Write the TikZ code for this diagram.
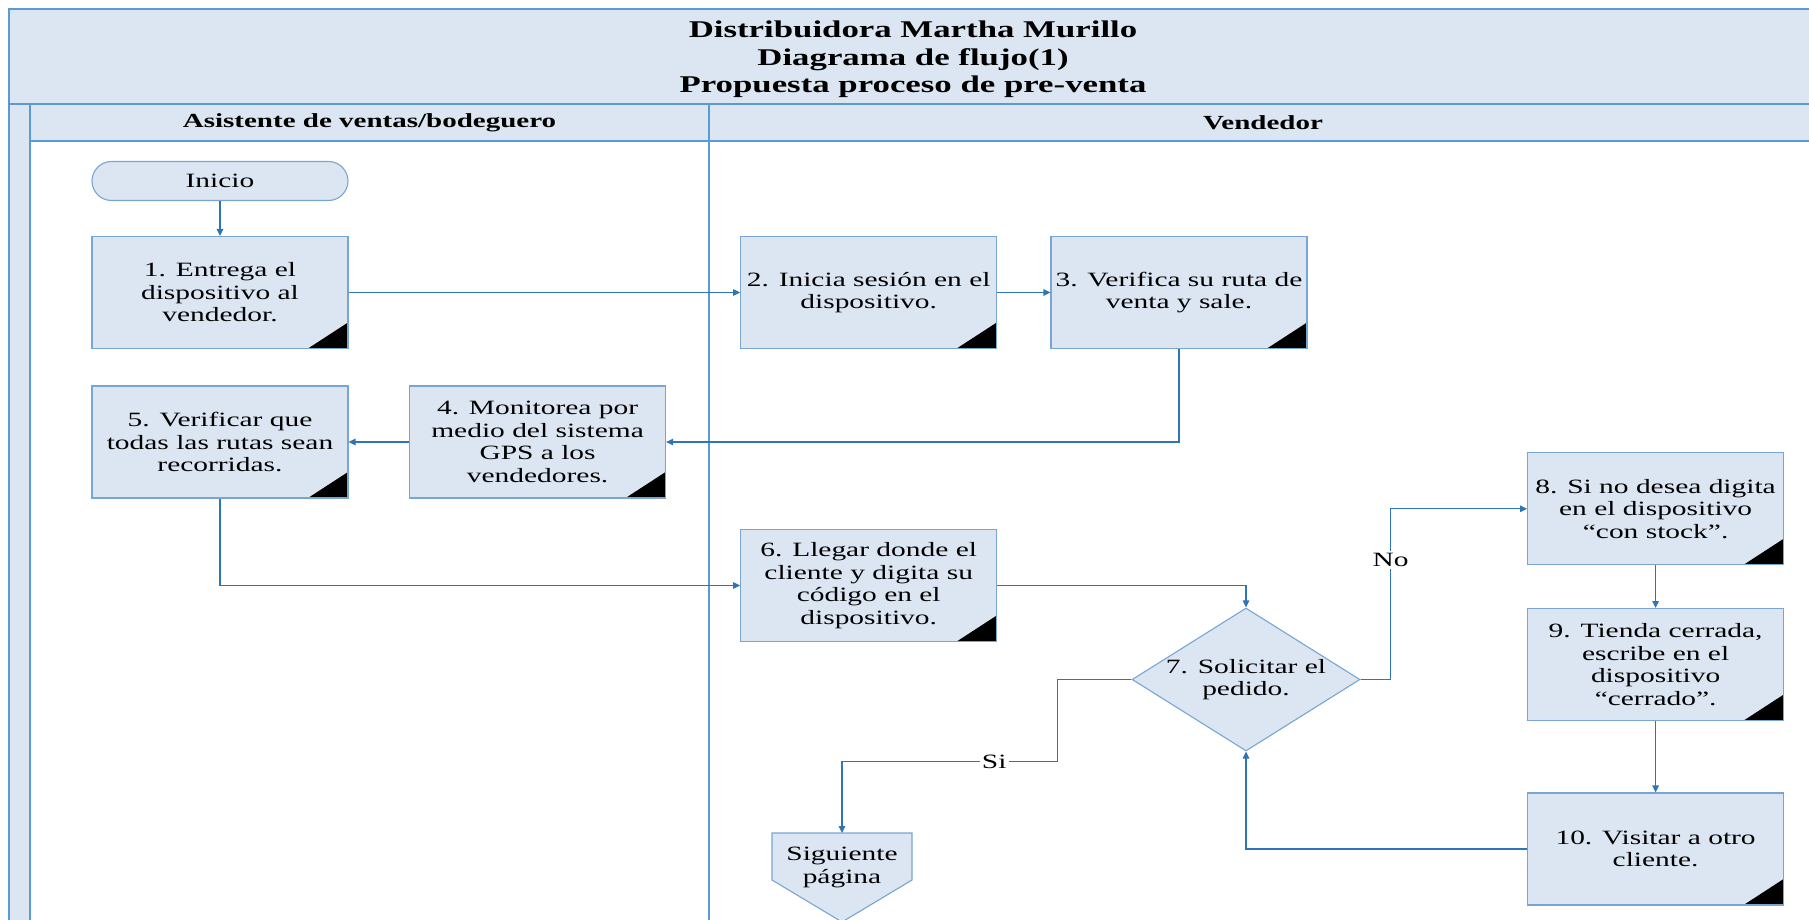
\documentclass[tikz,border=0pt]{standalone}
\usepackage{fontspec}
\setmainfont{Liberation Serif}[FakeStretch=1.45]
\usetikzlibrary{arrows.meta,shapes.geometric,calc}
\definecolor{laneblue}{RGB}{220,230,242}
\definecolor{framecol}{RGB}{91,155,213}
\definecolor{boxedge}{RGB}{120,165,210}
\definecolor{flowcol}{RGB}{46,117,182}

\begin{document}
\begin{tikzpicture}[x=1pt,y=-1pt,
  txt/.style={font=\fontsize{20.3}{22.5}\selectfont, align=center, text=black},
  frameline/.style={draw=framecol, line width=1.6pt},
  stepbox/.style={txt, draw=boxedge, line width=1.1pt, fill=laneblue,
    minimum width=256pt, minimum height=112pt, inner sep=0pt,
    path picture={\fill[black] (path picture bounding box.south east)
      -- ++(-40pt,0pt) -- ++(40pt,26pt) -- cycle;}},
  startbox/.style={txt, draw=boxedge, line width=1.1pt, fill=laneblue,
    rounded corners=19.5pt, minimum width=256pt, minimum height=39pt, inner sep=0pt},
  decision/.style={txt, diamond, aspect=1.6, draw=boxedge, line width=1.1pt, fill=laneblue,
    minimum width=228pt, minimum height=143pt, inner sep=0pt},
  flow/.style={draw=flowcol, line width=1.1pt, -{Triangle[length=7pt,width=6.5pt]}},
  lbl/.style={txt, fill=white, inner sep=2pt},
  hdr/.style={font=\fontsize{20}{24}\selectfont\bfseries, text=black}
]
\useasboundingbox (0,0) rectangle (1809,920);

% pool: title band, lane header row and left strip
\fill[laneblue] (9,9) rectangle (1817,141);
\fill[laneblue] (9,141) rectangle (30,925);
\draw[frameline] (9,925) -- (9,9) -- (1817,9);
\draw[frameline] (9,104) -- (1817,104);
\draw[frameline] (30,141) -- (1817,141);
\draw[frameline] (30,104) -- (30,925);
\draw[frameline] (709,104) -- (709,925);

\node[font=\fontsize{24}{27.7}\selectfont\bfseries, align=center] (title) at (913,59.5)
  {Distribuidora Martha Murillo\\Diagrama de flujo(1)\\Propuesta proceso de pre-venta};
\node[hdr] (laneA) at (369.5,123) {Asistente de ventas/bodeguero};
\node[hdr] (laneB) at (1263,123) {Vendedor};

% steps
\node[startbox] (ini) at (220,181) {Inicio};
\node[stepbox] (s1) at (220,292.5) {1. Entrega el\\dispositivo al\\vendedor.};
\node[stepbox] (s2) at (868.7,292.5) {2. Inicia sesión en el\\dispositivo.};
\node[stepbox] (s3) at (1179,292.5) {3. Verifica su ruta de\\venta y sale.};
\node[stepbox] (s4) at (537.6,442) {4. Monitorea por\\medio del sistema\\GPS a los\\vendedores.};
\node[stepbox] (s5) at (220,442) {5. Verificar que\\todas las rutas sean\\recorridas.};
\node[stepbox] (s6) at (868.7,585.5) {6. Llegar donde el\\cliente y digita su\\código en el\\dispositivo.};
\node[decision] (s7) at (1246,679.5) {7. Solicitar el\\pedido.};
\node[stepbox] (s8) at (1655.6,508.8) {8. Si no desea digita\\en el dispositivo\\“con stock”.};
\node[stepbox] (s9) at (1655.6,664.6) {9. Tienda cerrada,\\escribe en el\\dispositivo\\“cerrado”.};
\node[stepbox] (s10) at (1655.6,849) {10. Visitar a otro\\cliente.};

% off-page connector: pentagon outline drawn behind its label
\coordinate (sigtop) at (842,833);
\draw[draw=boxedge, line width=1.1pt, fill=laneblue]
  (sigtop) ++(-70,0) -- ++(140,0) -- ++(0,47) -- ++(-70,42) -- ++(-70,-42) -- cycle;
\node[txt, inner sep=0pt] (sig) at (842,867.5) {Siguiente\\página};

% bend points
\path (s8.west) ++(-136.5,0) coordinate (nobend);
\path (s7.west) ++(-73.8,0) coordinate (sibend);
\path (sigtop) ++(0,-71.5) coordinate (sicorner);

% connectors
\draw[flow] (ini) -- (s1);
\draw[flow] (s1) -- (s2);
\draw[flow] (s2) -- (s3);
\draw[flow] (s3.south) |- (s4.east);
\draw[flow] (s4) -- (s5);
\draw[flow] (s5.south) |- (s6.west);
\draw[flow] (s6.east) -| (s7.north);
\draw[flow] (s7.east) -| node[lbl, pos=0.85] {No} (nobend) -- (s8.west);
\draw[flow] (s8) -- (s9);
\draw[flow] (s9) -- (s10);
\draw[flow] (s10.west) -| (s7.south);
\draw[flow] (s7.west) -- (sibend) |- node[lbl, pos=0.647] {Si} (sicorner) -- (sigtop);
\end{tikzpicture}
\end{document}
